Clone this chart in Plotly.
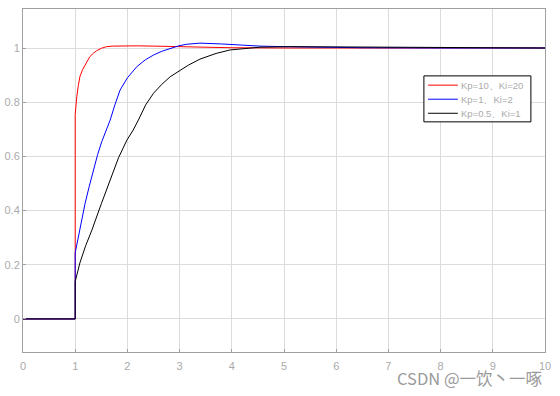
import plotly.graph_objects as go

# Kp=10, Ki=20 (red)
t_red = [0, 1, 1, 1.01, 1.03, 1.06, 1.09, 1.14, 1.19, 1.28, 1.35, 1.41, 1.5, 1.6, 1.72, 1.86, 2.2, 2.5, 3.0, 3.5, 4.0, 5.0, 6.0, 8.0, 10.0]
y_red = [0, 0, 0.755, 0.79, 0.82, 0.862, 0.894, 0.92, 0.937, 0.968, 0.981, 0.99, 0.999, 1.005, 1.007, 1.008, 1.008, 1.007, 1.005, 1.002, 1.001, 1.0, 1.0, 1.0, 1.0]

# Kp=1, Ki=2 (blue)
t_blue = [0, 1, 1, 1.04, 1.09, 1.19, 1.27, 1.35, 1.43, 1.51, 1.6, 1.67, 1.76, 1.86, 2.0, 2.18, 2.34, 2.5, 2.66, 2.82, 2.98, 3.14, 3.39, 3.8, 4.2, 4.54, 5.0, 5.56, 6.5, 8.0, 10.0]
y_blue = [0, 0, 0.244, 0.285, 0.328, 0.427, 0.49, 0.55, 0.607, 0.655, 0.7, 0.734, 0.79, 0.845, 0.89, 0.931, 0.956, 0.974, 0.988, 0.999, 1.008, 1.014, 1.018, 1.015, 1.01, 1.007, 1.005, 1.003, 1.001, 1.0, 1.0]

# Kp=0.5, Ki=1 (black)
t_black = [0, 1, 1, 1.09, 1.2, 1.32, 1.5, 1.67, 1.83, 1.99, 2.11, 2.21, 2.35, 2.5, 2.66, 2.82, 3.0, 3.17, 3.39, 3.7, 3.97, 4.25, 4.54, 5.11, 5.8, 7.0, 8.5, 10.0]
y_black = [0, 0, 0.138, 0.207, 0.27, 0.328, 0.425, 0.513, 0.595, 0.66, 0.697, 0.734, 0.79, 0.833, 0.866, 0.894, 0.915, 0.937, 0.959, 0.98, 0.993, 0.999, 1.003, 1.005, 1.004, 1.002, 1.0, 1.0]

names = ["Kp=10、Ki=20", "Kp=1、Ki=2", "Kp=0.5、Ki=1"]
colors = ["#ff0000", "#0000ff", "#000000"]
ts = [t_red, t_blue, t_black]
ys = [y_red, y_blue, y_black]

x_ticks = list(range(0, 11))
y_ticks = [0, 0.2, 0.4, 0.6, 0.8, 1]
y_tick_text = ["0", "0.2", "0.4", "0.6", "0.8", "1"]

fig = go.Figure()
for name, t, y, c in zip(names, ts, ys, colors):
    fig.add_trace(go.Scatter(x=t, y=y, mode="lines", name=name, showlegend=False,
                             line=dict(color=c, width=1)))

axis_common = dict(showgrid=True, gridcolor="#dcdcdc", gridwidth=1,
                   showline=True, linecolor="#a0a0a0", linewidth=1, mirror=True,
                   ticks="inside", ticklen=3, tickcolor="#a0a0a0", zeroline=False,
                   automargin=False,
                   tickfont=dict(family="Liberation Sans, Arial, sans-serif", size=11, color="#aaaaaa"))

fig.update_layout(
    width=560, height=396,
    margin=dict(l=23, r=15, t=9, b=44, autoexpand=False),
    paper_bgcolor="white", plot_bgcolor="white",
    xaxis=dict(range=[0, 10], tickvals=x_ticks, ticklabelstandoff=4, **axis_common),
    yaxis=dict(range=[-0.122, 1.144], tickvals=y_ticks, ticktext=y_tick_text, **axis_common),
    showlegend=False,
)

# legend box drawn as shapes + text annotations
lx0, lx1, ly0, ly1 = 0.768, 0.973, 0.671, 0.805
fig.add_shape(type="rect", xref="paper", yref="paper", x0=lx0, x1=lx1, y0=ly0, y1=ly1,
              line=dict(color="#000000", width=1), fillcolor="white", layer="above")
entry_y = [0.778, 0.737, 0.696]
for name, c, ey in zip(names, colors, entry_y):
    fig.add_shape(type="line", xref="paper", yref="paper", x0=0.776, x1=0.833, y0=ey, y1=ey,
                  line=dict(color=c, width=1), layer="above")
    fig.add_annotation(text=name, xref="paper", yref="paper", x=0.835, y=ey,
                       xanchor="left", yanchor="middle", showarrow=False,
                       font=dict(family="Liberation Sans, Arial, sans-serif", size=9.5, color="#aaaaaa"))

fig.add_annotation(text="CSDN @一饮丶一啄", xref="paper", yref="paper", x=1.0, y=-0.076,
                   xanchor="right", yanchor="middle", showarrow=False,
                   font=dict(family="Noto Sans CJK SC, sans-serif", size=16.5, color="#9a9a9a"))

fig.write_html("out.html", config={"displayModeBar": False},
               post_script="document.body.style.margin='0';")
